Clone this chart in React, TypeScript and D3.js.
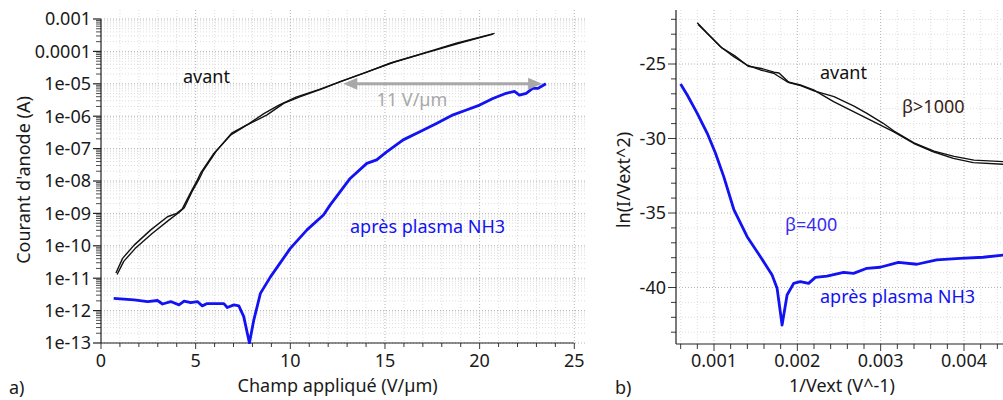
import React from "react";
import * as d3 from "d3";

// ---------- Panel a) : I(E) ----------
const avantAllerE = [0.79, 1.14, 1.75, 2.63, 3.51, 4.0, 4.3, 4.7, 5.1, 5.26, 5.96, 6.84, 7.72, 8.77, 9.65, 10.53, 11.75, 12.63, 14.04, 15.26, 17.0, 18.77, 20.79];
const avantAllerI = [1.45e-11, 4.1e-11, 1.05e-10, 3.1e-10, 7.9e-10, 1.0e-9, 1.4e-9, 4.0e-9, 1.1e-8, 1.74e-8, 7.1e-8, 2.6e-7, 5.4e-7, 1.1e-6, 2.5e-6, 4.0e-6, 7.2e-6, 1.17e-5, 2.3e-5, 4.3e-5, 8.7e-5, 1.78e-4, 3.6e-4];
const avantRetourE = [0.85, 1.2, 1.8, 2.7, 3.6, 4.1, 4.4, 4.8, 5.2, 5.4, 6.1, 6.9, 7.8, 8.6, 9.4, 10.3, 11.5, 12.8, 14.2, 15.5, 17.2, 19.0, 20.7];
const avantRetourI = [1.3e-11, 3.3e-11, 8.2e-11, 2.4e-10, 6.3e-10, 1.05e-9, 1.5e-9, 4.6e-9, 1.2e-8, 2.1e-8, 8.5e-8, 3.0e-7, 5.8e-7, 1.2e-6, 2.2e-6, 3.9e-6, 6.6e-6, 1.25e-5, 2.5e-5, 4.7e-5, 9.2e-5, 1.85e-4, 3.4e-4];
const apresE = [0.67, 1.75, 2.46, 2.98, 3.25, 3.68, 4.12, 4.39, 4.74, 5.09, 5.35, 5.61, 6.49, 6.67, 7.02, 7.28, 7.54, 7.84, 8.07, 8.42, 8.95, 10.0, 10.88, 11.75, 12.1, 13.16, 14.04, 14.56, 15.09, 15.96, 16.84, 17.72, 18.6, 19.3, 20.0, 20.7, 21.4, 21.84, 22.1, 22.46, 22.8, 23.07, 23.5];
const apresI = [2.4e-12, 2.15e-12, 1.9e-12, 2.05e-12, 1.6e-12, 1.9e-12, 1.5e-12, 1.95e-12, 1.75e-12, 1.9e-12, 1.4e-12, 1.65e-12, 1.65e-12, 1.25e-12, 1.5e-12, 1.4e-12, 6.5e-13, 1.0e-13, 5.1e-13, 3.4e-12, 1.1e-11, 8.3e-11, 3.1e-10, 8.9e-10, 1.8e-9, 1.2e-8, 3.5e-8, 4.5e-8, 7.9e-8, 1.86e-7, 3.3e-7, 6.0e-7, 1.1e-6, 1.55e-6, 2.2e-6, 3.5e-6, 5.1e-6, 5.8e-6, 4.5e-6, 5.1e-6, 7.2e-6, 7.2e-6, 1.0e-5];
const leftXTicks = [0, 5, 10, 15, 20, 25];
const leftYTicks = [1e-13, 1e-12, 1e-11, 1e-10, 1e-9, 1e-8, 1e-7, 1e-6, 1e-5, 1e-4, 1e-3];
const leftYLabels = ["1e-13", "1e-12", "1e-11", "1e-10", "1e-09", "1e-08", "1e-07", "1e-06", "1e-05", "0.0001", "0.001"];
const shiftArrow = [12.8, 23.3];
const shiftArrowI = 1e-5;

// ---------- Panel b) : Fowler-Nordheim ----------
const fnAvant1X = [0.000799, 0.000919, 0.001078, 0.001237, 0.001398, 0.001557, 0.001716, 0.001877, 0.002036, 0.002195, 0.002435, 0.002674, 0.002914, 0.003153, 0.003393, 0.003632, 0.003872, 0.004111, 0.00447];
const fnAvant1Y = [-22.23, -22.94, -23.84, -24.51, -25.07, -25.4, -25.62, -26.19, -26.41, -26.74, -27.53, -28.2, -28.87, -29.54, -30.32, -30.89, -31.33, -31.62, -31.73];
const fnAvant2X = [0.00081, 0.00093, 0.00109, 0.00125, 0.00141, 0.00157, 0.00172, 0.00178, 0.00190, 0.00204, 0.00220, 0.00244, 0.00268, 0.002835, 0.00303, 0.00316, 0.00340, 0.00364, 0.00388, 0.00412, 0.00447];
const fnAvant2Y = [-22.35, -23.0, -23.9, -24.45, -25.15, -25.3, -25.55, -25.6, -26.25, -26.45, -26.8, -27.19, -27.82, -28.31, -28.98, -29.5, -30.3, -30.85, -31.2, -31.45, -31.55];
const fnApresX = [0.000599, 0.000679, 0.000799, 0.000919, 0.001018, 0.001117, 0.001237, 0.001398, 0.001557, 0.001697, 0.001757, 0.001817, 0.001877, 0.001956, 0.002036, 0.002135, 0.002216, 0.002356, 0.002555, 0.002674, 0.002835, 0.002994, 0.003213, 0.003434, 0.003673, 0.003952, 0.004231, 0.00447];
const fnApresY = [-26.34, -27.08, -28.31, -29.65, -30.99, -32.56, -34.75, -36.59, -37.93, -39.16, -40.05, -42.52, -40.5, -39.72, -39.61, -39.72, -39.32, -39.23, -38.98, -39.05, -38.71, -38.64, -38.31, -38.44, -38.15, -38.04, -37.97, -37.82];
const rightXTicks = [0.001, 0.002, 0.003, 0.004];
const rightXLabels = ["0.001", "0.002", "0.003", "0.004"];
const rightYTicks = [-25, -30, -35, -40];

const FONT = "'Noto Sans', 'Open Sans', sans-serif";
const FS = 18;
const GRID_MAJ = "#b4b4b4";
const GRID_MIN = "#dedede";
const BLUE = "#1212f2";

export default function App() {
  // left scales
  const lx = d3.scaleLinear().domain([0, 25]).range([101, 574.3]);
  const ly = d3.scaleLog().domain([1e-13, 1e-3]).range([343, 19]);
  const lTop = 10, lBottom = 343, lLeft = 101, lRight = 585;

  // right scales
  const rx = d3.scaleLinear().domain([0.001, 0.004]).range([714, 964]);
  const ry = d3.scaleLinear().domain([-25, -40]).range([64, 287.5]);
  const rTop = 10, rBottom = 344, rLeft = 676, rRight = 1003;

  const lLine = (xs: number[], ys: number[]) =>
    d3.line<number>().x((_, i) => lx(xs[i])).y((_, i) => ly(ys[i]))(xs.map((_, i) => i)) || "";
  const rLine = (xs: number[], ys: number[]) =>
    d3.line<number>().x((_, i) => rx(xs[i])).y((_, i) => ry(ys[i]))(xs.map((_, i) => i)) || "";

  // left grid
  const lMinorX = d3.range(1, 26);
  const lMinorY: number[] = [];
  for (let e = -13; e < -3; e++) for (let j = 2; j <= 9; j++) lMinorY.push(j * Math.pow(10, e));

  // right grid
  const rMinorX = d3.range(3, 23).map((k) => k * 0.0002);
  const rMinorY = d3.range(-43, -21);

  const arrowY = ly(shiftArrowI);
  const ax1 = lx(shiftArrow[0]);
  const ax2 = lx(shiftArrow[1]);

  return (
    <svg width={1003} height={400} style={{ position: "absolute", left: 0, top: 0, background: "#fff" }} fontFamily={FONT}>
      <defs>
        <clipPath id="clipL"><rect x={lLeft} y={lTop} width={lRight - lLeft} height={lBottom - lTop + 1} /></clipPath>
        <clipPath id="clipR"><rect x={rLeft} y={rTop} width={rRight - rLeft} height={rBottom - rTop} /></clipPath>
      </defs>

      {/* ===== Left panel grid ===== */}
      <g>
        {lMinorY.map((v, i) => (
          <line key={"lmy" + i} x1={lLeft} x2={lRight} y1={ly(v)} y2={ly(v)} stroke={GRID_MIN} strokeDasharray="1,2" />
        ))}
        {lMinorX.filter((v) => v % 5 !== 0).map((v) => (
          <line key={"lmx" + v} x1={lx(v)} x2={lx(v)} y1={lTop} y2={lBottom} stroke={GRID_MIN} strokeDasharray="1,2" />
        ))}
        {leftYTicks.map((v, i) => (
          <line key={"lgy" + i} x1={lLeft} x2={lRight} y1={ly(v)} y2={ly(v)} stroke={GRID_MAJ} strokeDasharray="1,2" />
        ))}
        {leftXTicks.filter((v) => v > 0).map((v) => (
          <line key={"lgx" + v} x1={lx(v)} x2={lx(v)} y1={lTop} y2={lBottom} stroke={GRID_MAJ} strokeDasharray="1,2" />
        ))}
      </g>

      {/* Left axes */}
      <g stroke="#222" strokeWidth={1.2}>
        <line x1={lLeft} x2={lLeft} y1={ly(1e-3)} y2={lBottom} />
        <line x1={lLeft} x2={lx(25)} y1={lBottom} y2={lBottom} />
        {leftYTicks.map((v, i) => (
          <line key={"lyt" + i} x1={lLeft - 8} x2={lLeft} y1={ly(v)} y2={ly(v)} />
        ))}
        {lMinorY.map((v, i) => (
          <line key={"lymt" + i} x1={lLeft - 5} x2={lLeft} y1={ly(v)} y2={ly(v)} strokeWidth={0.8} />
        ))}
        {d3.range(0, 26).map((v) => (
          <line key={"lxt" + v} x1={lx(v)} x2={lx(v)} y1={lBottom} y2={lBottom + (v % 5 === 0 ? 6 : 4)} strokeWidth={0.9} />
        ))}
      </g>
      <g fontSize={FS} fill="#1a1a1a">
        {leftYTicks.map((v, i) => (
          <text key={"lyl" + i} x={lLeft - 10} y={ly(v)} dy="0.35em" textAnchor="end">{leftYLabels[i]}</text>
        ))}
        {leftXTicks.map((v) => (
          <text key={"lxl" + v} x={lx(v)} y={367} textAnchor="middle">{v}</text>
        ))}
        <text x={lx(12.5)} y={392} textAnchor="middle">Champ appliqué (V/µm)</text>
        <text transform={`translate(30,180) rotate(-90)`} textAnchor="middle">Courant d'anode (A)</text>
        <text x={9} y={394}>a)</text>
      </g>

      {/* Left curves */}
      <g clipPath="url(#clipL)" fill="none" strokeLinejoin="round">
        <path d={lLine(avantRetourE, avantRetourI)} stroke="#111" strokeWidth={1.4} />
        <path d={lLine(avantAllerE, avantAllerI)} stroke="#111" strokeWidth={1.4} />
        <path d={lLine(apresE, apresI)} stroke={BLUE} strokeWidth={2.8} />
      </g>

      {/* Shift arrow */}
      <g stroke="#a8a8a8" fill="#a8a8a8">
        <line x1={ax1 + 10} x2={ax2 - 10} y1={arrowY} y2={arrowY} strokeWidth={3} />
        <path d={`M${ax1},${arrowY} L${ax1 + 14},${arrowY - 6} L${ax1 + 14},${arrowY + 6} Z`} stroke="none" />
        <path d={`M${ax2},${arrowY} L${ax2 - 14},${arrowY - 6} L${ax2 - 14},${arrowY + 6} Z`} stroke="none" />
      </g>
      <text x={412} y={106} fontSize={FS} fill="#a8a8a8" textAnchor="middle">11 V/µm</text>
      <text x={183} y={83} fontSize={FS} fill="#111">avant</text>
      <text x={350} y={233} fontSize={FS} fill={BLUE}>après plasma NH3</text>

      {/* ===== Right panel grid ===== */}
      <g>
        {rMinorY.filter((v) => v % 5 !== 0).map((v) => (
          <line key={"rmy" + v} x1={rLeft} x2={rRight} y1={ry(v)} y2={ry(v)} stroke={GRID_MIN} strokeDasharray="1,2" />
        ))}
        {rMinorX.map((v, i) => (
          <line key={"rmx" + i} x1={rx(v)} x2={rx(v)} y1={rTop} y2={rBottom} stroke={i % 5 === 2 ? GRID_MAJ : GRID_MIN} strokeDasharray="1,2" />
        ))}
        {rightYTicks.map((v) => (
          <line key={"rgy" + v} x1={rLeft} x2={rRight} y1={ry(v)} y2={ry(v)} stroke={GRID_MAJ} strokeDasharray="1,2" />
        ))}
      </g>

      <g stroke="#222" strokeWidth={1.2}>
        <line x1={rLeft} x2={rLeft} y1={rTop} y2={rBottom} />
        <line x1={rLeft} x2={rRight} y1={rBottom} y2={rBottom} />
        {rMinorY.map((v) => (
          <line key={"ryt" + v} x1={rLeft - (v % 5 === 0 ? 8 : 5)} x2={rLeft} y1={ry(v)} y2={ry(v)} strokeWidth={0.9} />
        ))}
        {rMinorX.map((v, i) => (
          <line key={"rxt" + i} x1={rx(v)} x2={rx(v)} y1={rBottom} y2={rBottom + (i % 5 === 2 ? 7 : 5)} strokeWidth={0.9} />
        ))}
      </g>
      <g fontSize={FS} fill="#1a1a1a">
        {rightYTicks.map((v) => (
          <text key={"ryl" + v} x={rLeft - 10} y={ry(v)} dy="0.35em" textAnchor="end">{v}</text>
        ))}
        {rightXTicks.map((v, i) => (
          <text key={"rxl" + i} x={rx(v)} y={367} textAnchor="middle">{rightXLabels[i]}</text>
        ))}
        <text x={842} y={392} textAnchor="middle">1/Vext (V^-1)</text>
        <text transform={`translate(630,180) rotate(-90)`} textAnchor="middle">ln(I/Vext^2)</text>
        <text x={615} y={394}>b)</text>
      </g>

      <g clipPath="url(#clipR)" fill="none" strokeLinejoin="round">
        <path d={rLine(fnAvant2X, fnAvant2Y)} stroke="#111" strokeWidth={1.4} />
        <path d={rLine(fnAvant1X, fnAvant1Y)} stroke="#111" strokeWidth={1.4} />
        <path d={rLine(fnApresX, fnApresY)} stroke={BLUE} strokeWidth={2.8} />
      </g>

      <text x={820} y={79} fontSize={FS} fill="#111">avant</text>
      <text x={902} y={113} fontSize={FS} fill="#3a2418">β&gt;1000</text>
      <text x={785} y={231} fontSize={FS} fill="#3a2cf0">β=400</text>
      <text x={820} y={303} fontSize={FS} fill={BLUE}>après plasma NH3</text>
    </svg>
  );
}
